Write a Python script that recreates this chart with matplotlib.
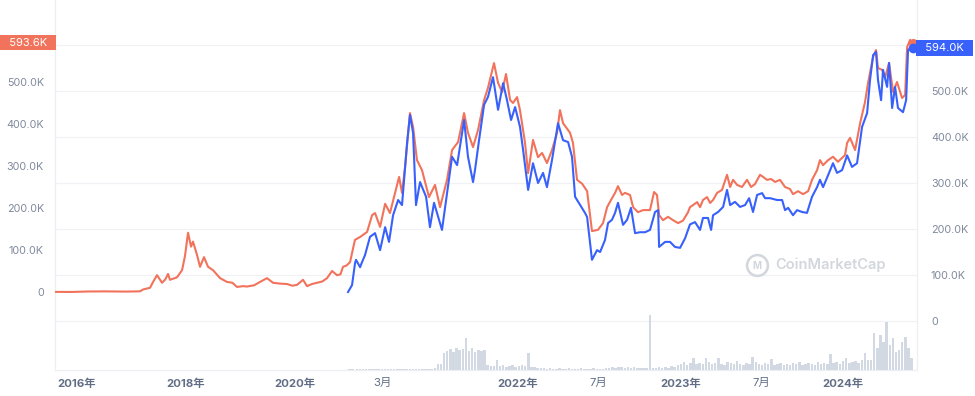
import numpy as np
import pandas as pd
import matplotlib
matplotlib.use("Agg")
import matplotlib.pyplot as plt
from matplotlib.transforms import blended_transform_factory

plt.rcParams['font.family'] = ['Inter', 'Noto Sans CJK JP', 'DejaVu Sans']

ORANGE = "#f2735b"
BLUE = "#3861fb"
VOL_COLOR = "#d3d9e3"
GRID = "#f0f2f5"
LABEL_GRAY = "#808a9d"
XLABEL_GRAY = "#616e85"

# price series, x in decimal years, y in thousands (K)
orange_years = [
    2015.596, 2015.9, 2016.2, 2016.5, 2016.9, 2017.156, 2017.211, 2017.339, 2017.40, 2017.468,
    2017.560, 2017.62, 2017.670, 2017.706, 2017.835, 2017.927, 2017.98, 2018.037, 2018.092, 2018.128,
    2018.202, 2018.257, 2018.330, 2018.404, 2018.495, 2018.624, 2018.752, 2018.85, 2018.936, 2019.05,
    2019.119, 2019.25, 2019.358, 2019.486, 2019.596, 2019.72, 2019.853, 2019.95, 2020.033, 2020.132,
    2020.198, 2020.28, 2020.364, 2020.45, 2020.529, 2020.612, 2020.694, 2020.75, 2020.793, 2020.85,
    2020.909, 2020.99, 2021.028, 2021.071, 2021.102, 2021.120, 2021.151, 2021.182, 2021.212, 2021.243,
    2021.268, 2021.286, 2021.305, 2021.335, 2021.354, 2021.378, 2021.409, 2021.452, 2021.489, 2021.520,
    2021.563, 2021.594, 2021.631, 2021.668, 2021.692, 2021.723, 2021.754, 2021.791, 2021.815, 2021.852,
    2021.877, 2021.902, 2021.926, 2021.951, 2021.969, 2021.994, 2022.012, 2022.043, 2022.062, 2022.092,
    2022.123, 2022.148, 2022.178, 2022.209, 2022.240, 2022.258, 2022.277, 2022.320, 2022.338, 2022.363,
    2022.394, 2022.425,
    2022.455, 2022.492, 2022.523, 2022.548, 2022.572, 2022.597, 2022.615, 2022.640, 2022.658, 2022.689,
    2022.708, 2022.738, 2022.769, 2022.812, 2022.837, 2022.855, 2022.868, 2022.892, 2022.923, 2022.954,
    2022.985, 2023.015, 2023.046, 2023.058, 2023.077, 2023.102, 2023.120, 2023.138, 2023.163, 2023.182,
    2023.200, 2023.225, 2023.255, 2023.286, 2023.305, 2023.323, 2023.348, 2023.378, 2023.409, 2023.434,
    2023.458, 2023.489, 2023.508, 2023.532, 2023.557, 2023.582, 2023.612, 2023.643, 2023.674, 2023.692,
    2023.723, 2023.754, 2023.785, 2023.809, 2023.840, 2023.858, 2023.877, 2023.908, 2023.938, 2023.969,
    2024.012,
    2024.025, 2024.043, 2024.074, 2024.105, 2024.135, 2024.154, 2024.185, 2024.203, 2024.215, 2024.240,
    2024.258, 2024.283, 2024.308, 2024.332, 2024.363, 2024.382, 2024.394, 2024.412, 2024.431,
]
orange_vals = [
    0.3, 0.1, 1.2, 1.5, 1.0, 1.6, 6, 10, 25, 40,
    22, 30, 43, 29, 35, 52, 85, 141, 108, 120,
    88, 60, 83, 60, 52, 33, 24, 22, 12, 14,
    13, 16, 24, 33, 22, 20, 19, 15, 17, 29,
    14, 19, 22, 25, 33, 50, 40, 42, 60, 63,
    71, 124, 131, 143, 183, 188, 155, 210, 188, 236,
    274, 236, 298, 426, 393, 314, 290, 226, 255, 202,
    267, 338, 357, 426, 379, 345, 386, 457, 486, 545,
    498, 476, 519, 457, 450, 464, 433, 355, 283, 362,
    321, 331, 307, 338, 379, 433, 402, 379, 355, 267,
    258, 240,
    145, 148, 164, 202, 219, 236, 252, 231, 236, 231,
    202, 190, 195, 195, 238, 231, 183, 171, 179, 171,
    164, 170, 190, 202, 207, 214, 202, 219, 226, 212,
    219, 236, 243, 279, 250, 267, 255, 250, 267, 250,
    257, 279, 274, 267, 269, 262, 267, 250, 245, 233,
    240, 233, 240, 267, 290, 314, 302, 314, 322, 310,
    326,
    355, 367, 338, 402, 452, 498, 560, 576, 533, 529,
    510, 545, 476, 500, 462, 469, 583, 600, 593.6,
]

blue_years = [
    2020.876, 2020.942, 2020.992, 2021.003, 2021.028, 2021.040, 2021.058, 2021.089, 2021.120, 2021.151,
    2021.182, 2021.206, 2021.231, 2021.262, 2021.286, 2021.317, 2021.335, 2021.354, 2021.372, 2021.397,
    2021.434, 2021.458, 2021.483, 2021.532, 2021.563, 2021.594, 2021.625, 2021.668, 2021.692, 2021.723,
    2021.735, 2021.760, 2021.791, 2021.815, 2021.846, 2021.877, 2021.908, 2021.932, 2021.957, 2021.982,
    2022.012, 2022.031, 2022.062, 2022.092, 2022.123, 2022.154, 2022.178, 2022.209, 2022.246, 2022.277,
    2022.308, 2022.332, 2022.351, 2022.382, 2022.412, 2022.425,
    2022.455, 2022.486, 2022.505, 2022.535, 2022.554, 2022.578, 2022.597, 2022.615, 2022.646, 2022.671,
    2022.695, 2022.720, 2022.751, 2022.782, 2022.812, 2022.843, 2022.862, 2022.868, 2022.905, 2022.935,
    2022.966, 2022.997, 2023.028, 2023.058, 2023.089, 2023.120, 2023.138, 2023.169, 2023.188, 2023.200,
    2023.231, 2023.262, 2023.286, 2023.305, 2023.335, 2023.366, 2023.397, 2023.422, 2023.446, 2023.471,
    2023.502, 2023.520, 2023.551, 2023.594, 2023.625, 2023.643, 2023.662, 2023.692, 2023.717, 2023.748,
    2023.778, 2023.809, 2023.840, 2023.858, 2023.877, 2023.908, 2023.938, 2023.963, 2023.994, 2024.025,
    2024.055, 2024.086, 2024.117, 2024.148, 2024.166, 2024.185, 2024.203, 2024.215, 2024.234, 2024.246,
    2024.271, 2024.283, 2024.302, 2024.320, 2024.338, 2024.369, 2024.388, 2024.400, 2024.425, 2024.431,
]
blue_vals = [
    63, 78, 126, 133, 117, 128, 143, 183, 191, 154,
    204, 172, 230, 263, 252, 387, 448, 409, 252, 302,
    270, 204, 257, 198, 278, 357, 339, 437, 357, 302,
    328, 393, 470, 487, 530, 459, 517, 480, 437, 465,
    422, 372, 285, 343, 300, 322, 291, 350, 430, 393,
    389, 357, 270, 252, 235, 226,
    133, 154, 150, 176, 213, 220, 235, 257, 209, 220,
    246, 191, 193, 193, 198, 237, 241, 161, 172, 172,
    161, 159, 180, 210, 215, 198, 224, 224, 198, 230,
    237, 248, 285, 252, 259, 248, 252, 267, 237, 274,
    278, 267, 267, 263, 263, 241, 246, 230, 241, 237,
    235, 270, 291, 307, 291, 317, 343, 322, 328, 360,
    335, 343, 422, 452, 524, 578, 585, 524, 480, 546,
    509, 561, 463, 509, 463, 454, 480, 589, 596, 594.0,
]

# weekly volume (relative units) starting from vol_start
vol_start = "2020-11-16"
vol_vals = [
    1, 1, 1, 1, 1, 1, 1, 1, 1, 1, 1, 1, 1, 1, 1, 1, 1, 1, 1, 1, 1, 1, 1, 1, 1, 1, 1, 1, 1, 1, 1, 1, 2,
    6, 6,
    17, 19, 21, 18, 22, 20, 21, 32, 19, 22, 18, 20, 19, 20,
    5, 4, 4, 10, 4, 5, 3, 4, 5, 3, 4, 5, 4, 17, 3, 3, 2,
    2, 2, 1, 2, 1, 1, 2, 1, 1, 2, 1, 1, 1, 2, 1, 1, 1, 2, 1, 1, 1, 2, 2, 3, 2, 3, 3, 2, 3, 2, 3, 2, 2, 2, 2,
    55,
    2, 2, 3, 2, 3, 2, 4, 3, 5,
    6, 8, 5, 7, 12, 6,
    7, 6, 12, 8, 6, 7, 12, 6, 5, 8, 7, 6, 9, 6, 5, 7, 6, 13, 8,
    6, 5, 7, 6, 11, 5, 6, 7, 5, 6, 5, 7, 6, 8, 5, 6, 7, 6, 5, 8, 6, 7, 6,
    16, 7, 8, 6, 9, 12, 7, 8, 9, 7, 10, 17, 10,
    10, 37, 22, 35, 28, 48, 25, 32, 18, 20, 28, 33, 22, 12,
]

tick_years = [2016, 2018, 2020, 2021.164, 2022, 2022.496, 2023, 2023.496, 2024]
tick_labels = ["2016年", "2018年", "2020年", "3月", "2022年", "7月", "2023年", "7月", "2024年"]
y_ticks = [0, 100, 200, 300, 400, 500]

# the time axis is compressed before 2021 (relative width of one year)
scale_years = np.array([2015.0, 2016, 2018, 2020, 2021, 2022, 2023, 2024, 2025])
scale_width = np.array([0.3354, 0.3354, 0.3354, 0.3723, 1, 1, 1, 1])
scale_pos = np.concatenate([[0], np.cumsum(scale_width * np.diff(scale_years))])


def fwd(x):
    return np.interp(x, scale_years, scale_pos)


def inv(p):
    return np.interp(p, scale_pos, scale_years)


def fmt_k(v):
    return "0" if v == 0 else f"{v:.1f}K"


vol_dates = pd.date_range(vol_start, periods=len(vol_vals), freq="7D")
vol_years = vol_dates.year + (vol_dates.dayofyear - 1) / 365.25

fig = plt.figure(figsize=(9.75, 3.96), dpi=100)
ax = fig.add_axes([55 / 975, 26 / 396, 862 / 975, 370 / 396])
axv = ax.twinx()
ax2 = ax.twinx()
ax.set_zorder(0)
axv.set_zorder(1)
ax2.set_zorder(2)

ax.set_xscale("function", functions=(fwd, inv))
ax.set_xlim(2015.596, 2024.455)
ax.set_ylim(-185.7, 695.2)
ax2.set_ylim(-106.5, 697.8)
axv.set_ylim(0, 370)
axv.axis("off")

# gridlines follow the right-hand scale
gtrans = blended_transform_factory(ax.transAxes, ax2.transData)
for v in [0, 100, 200, 300, 400, 500, 600]:
    ax.plot([0, 1], [v, v], transform=gtrans, color=GRID, lw=0.9, zorder=0)

axv.bar(vol_years, vol_vals, width=5.5 / 365, color=VOL_COLOR, linewidth=0, align="center")

ax.plot(orange_years, orange_vals, color=ORANGE, lw=1.5, zorder=3, solid_joinstyle="round")
ax.plot(orange_years[-1], orange_vals[-1], "o", color=ORANGE, ms=5.5, zorder=4)
ax2.plot(blue_years, blue_vals, color=BLUE, lw=1.5, zorder=3, solid_joinstyle="round")
ax2.plot(blue_years[-1], blue_vals[-1], "o", color=BLUE, ms=6, zorder=4)

for a in (ax, ax2, axv):
    for s in ("top", "bottom", "left", "right"):
        a.spines[s].set_visible(False)
for s in ("left", "right", "bottom"):
    ax.spines[s].set_visible(True)
    ax.spines[s].set_color("#eceff3")
    ax.spines[s].set_linewidth(0.9)

ax.set_xticks(tick_years)
ax.set_xticklabels(tick_labels)
for lbl in ax.get_xticklabels():
    lbl.set_color(XLABEL_GRAY)
    lbl.set_fontsize(8.2)
    if "年" in lbl.get_text():
        lbl.set_fontweight("bold")
ax.tick_params(axis="x", length=0, pad=6)

ax.set_yticks(y_ticks)
ax.set_yticklabels([fmt_k(v) for v in y_ticks])
ax.tick_params(axis="y", length=0, pad=8, labelsize=7.8, labelcolor=LABEL_GRAY)
ax2.set_yticks(y_ticks)
ax2.set_yticklabels([fmt_k(v) for v in y_ticks])
ax2.tick_params(axis="y", length=0, pad=10, labelsize=7.8, labelcolor=LABEL_GRAY)

# current value tags
ltrans = blended_transform_factory(ax.transAxes, ax.transData)
ax.text(-0.002, orange_vals[-1], f"  {orange_vals[-1]:.1f}K  ", transform=ltrans, ha="right", va="center",
        color="white", fontsize=8, bbox=dict(boxstyle="square,pad=0.25", fc=ORANGE, ec="none"), clip_on=False)
rtrans = blended_transform_factory(ax2.transAxes, ax2.transData)
ax2.text(1.002, blue_vals[-1], f"  {blue_vals[-1]:.1f}K  ", transform=rtrans, ha="left", va="center",
         color="white", fontsize=8, bbox=dict(boxstyle="square,pad=0.25", fc=BLUE, ec="none"), clip_on=False)

# watermark
ax2.plot([0.814], [0.284], "o", transform=ax2.transAxes, ms=15, mfc="none", mec="#d2d6dd", mew=1.8, zorder=1)
ax2.text(0.814, 0.281, "M", transform=ax2.transAxes, ha="center", va="center", fontsize=7,
         color="#d2d6dd", fontweight="bold", zorder=1)
ax2.text(0.900, 0.284, "CoinMarketCap", transform=ax2.transAxes, ha="center", va="center",
         fontsize=10.5, color="#d2d6dd", fontweight="semibold", zorder=1)

fig.savefig("out.png", dpi=100)
